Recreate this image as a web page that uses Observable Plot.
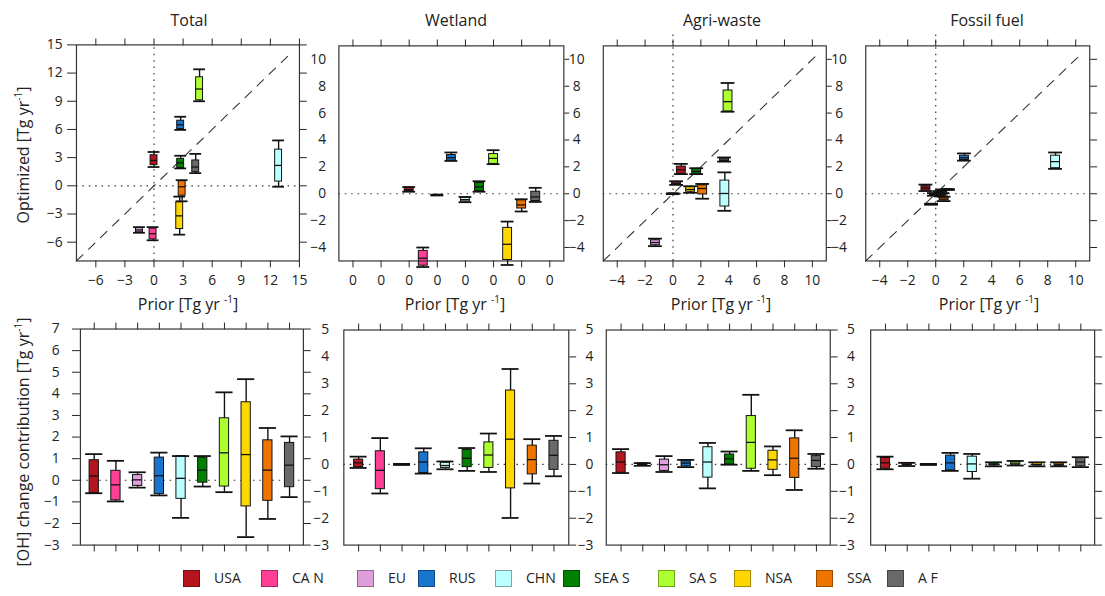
<!DOCTYPE html>
<html>
<head>
<meta charset="utf-8">
<script src="https://cdn.jsdelivr.net/npm/d3@7"></script>
<script src="https://cdn.jsdelivr.net/npm/@observablehq/plot@0.6"></script>
<style>
html,body{margin:0;padding:0;background:#fff;}
#root{position:relative;width:1105px;height:596px;overflow:hidden;font-family:"Open Sans",sans-serif;color:#222;background:#fff;}
#root svg{position:absolute;left:0;top:0;}
.lbl{position:absolute;white-space:nowrap;font-size:16px;line-height:16px;transform:translateX(-50%);}
.vlbl{position:absolute;white-space:nowrap;font-size:16px;line-height:16px;transform:translate(-50%,-50%) rotate(-90deg);}
.sup{font-size:10px;position:relative;top:-7px;}
.sw{position:absolute;width:17px;height:17px;box-sizing:border-box;border:1px solid rgba(0,0,0,0.35);}
.lg{position:absolute;font-size:14px;line-height:14px;white-space:nowrap;}
</style>
</head>
<body>
<div id="root"></div>
<script>
// ---------------- data ----------------
const regions = ["USA","CAN","EU","RUS","CHN","SEAS","SAS","NSA","SSA","AF"];
const legendLabels = ["USA","CA N","EU","RUS","CHN","SEA S","SA S","NSA","SSA","A F"];
const colors = ["#B3161F","#FF3E96","#DDA0DD","#1874CD","#BBFFFF","#008000","#ADFF2F","#FFD700","#EE7600","#696969"];
const panelTitles = ["Total","Wetland","Agri-waste","Fossil fuel"];

// prior (x) values, top row
const priorTotal   = [0, -0.1, -1.5, 2.75, 12.85, 2.75, 4.7, 2.65, 2.9, 4.3];
const priorWetland = [0, 1, 2, 3, 4, 5, 6, 7, 8, 9];
const priorAgri    = [0.6, 0.26, -1.26, 0.02, 3.72, 1.7, 3.95, 1.26, 2.13, 3.7];
const priorFossil  = [-0.7, -0.1, -0.3, 2.05, 8.56, 0.5, 0.9, 0.4, 0.6, 0.3];

// optimized box stats [lo, q1, median, q3, hi], top row
const optTotal = [
  [2.0, 2.2, 2.7, 3.25, 3.6], [-5.8, -5.7, -5.1, -4.55, -4.4], [-5.0, -4.95, -4.7, -4.5, -4.4],
  [5.95, 6.05, 6.5, 6.93, 7.35], [-0.1, 0.45, 2.17, 3.85, 4.83], [1.85, 1.9, 2.45, 2.87, 3.2],
  [9.0, 9.1, 10.3, 11.55, 12.4], [-5.2, -4.6, -3.2, -1.75, -1.15], [-1.65, -1.05, -0.1, 0.5, 0.6],
  [1.35, 1.45, 2.0, 2.7, 3.4]];
const optWetland = [
  [0.15, 0.2, 0.3, 0.45, 0.5], [-5.45, -5.35, -4.8, -4.25, -4.0], [-0.13, -0.12, -0.1, -0.08, -0.07],
  [2.44, 2.46, 2.68, 2.88, 3.07], [-0.63, -0.58, -0.44, -0.29, -0.24], [0.15, 0.2, 0.51, 0.8, 0.93],
  [2.2, 2.22, 2.63, 2.95, 3.24], [-5.3, -4.93, -3.76, -2.54, -2.07], [-1.32, -1.1, -0.83, -0.49, -0.41],
  [-0.61, -0.54, -0.24, 0.15, 0.44]];
const optAgri = [
  [1.46, 1.49, 1.78, 2.02, 2.22], [0.66, 0.7, 0.78, 0.85, 0.93], [-3.9, -3.83, -3.63, -3.46, -3.34],
  [-0.03, -0.02, 0, 0.02, 0.03], [-1.27, -0.95, 0.02, 0.98, 1.59], [1.46, 1.48, 1.66, 1.85, 1.9],
  [6.1, 6.12, 6.85, 7.68, 8.24], [0.07, 0.15, 0.32, 0.49, 0.56], [-0.37, -0.05, 0.39, 0.63, 0.73],
  [2.39, 2.42, 2.5, 2.62, 2.7]];
const optFossil = [
  [0.2, 0.24, 0.44, 0.56, 0.68], [-0.15, -0.12, -0.05, 0.0, 0.05], [-0.82, -0.8, -0.78, -0.76, -0.74],
  [2.46, 2.51, 2.68, 2.83, 3.0], [1.85, 1.9, 2.39, 2.83, 3.07], [0.05, 0.1, 0.2, 0.28, 0.32],
  [0.28, 0.29, 0.31, 0.33, 0.35], [-0.2, -0.15, -0.1, -0.05, 0.0], [-0.55, -0.5, -0.4, -0.28, -0.22],
  [0.02, 0.05, 0.1, 0.15, 0.2]];

// [OH] change contribution box stats [lo, q1, median, q3, hi], bottom row
const ohTotal = [
  [-0.6, -0.6, 0.2, 0.93, 1.21], [-0.98, -0.93, -0.21, 0.44, 0.9], [-0.34, -0.26, 0.02, 0.24, 0.37],
  [-0.7, -0.64, 0.21, 1.05, 1.28], [-1.74, -0.86, 0.09, 1.12, 1.12], [-0.29, -0.11, 0.47, 1.04, 1.12],
  [-0.55, -0.29, 1.27, 2.87, 4.07], [-2.63, -1.21, 1.19, 3.61, 4.68], [-1.79, -0.95, 0.47, 1.85, 2.42],
  [-0.78, -0.32, 0.7, 1.73, 2.03]];
const ohWetland = [
  [-0.13, -0.1, 0.06, 0.18, 0.29], [-1.08, -0.92, -0.22, 0.49, 0.98], [-0.02, -0.01, 0, 0.01, 0.02],
  [-0.34, -0.32, 0.09, 0.45, 0.6], [-0.18, -0.13, -0.04, 0.06, 0.11], [-0.24, -0.1, 0.23, 0.54, 0.61],
  [-0.28, -0.13, 0.35, 0.82, 1.15], [-1.99, -0.89, 0.94, 2.75, 3.55], [-0.71, -0.37, 0.18, 0.7, 0.94],
  [-0.44, -0.2, 0.34, 0.88, 1.06]];
const ohAgri = [
  [-0.32, -0.31, 0.09, 0.45, 0.57], [-0.05, -0.04, 0, 0.04, 0.05], [-0.28, -0.24, -0.01, 0.18, 0.31],
  [-0.1, -0.07, 0.05, 0.12, 0.17], [-0.89, -0.49, 0.09, 0.64, 0.8], [-0.01, 0, 0.21, 0.37, 0.48],
  [-0.24, -0.16, 0.82, 1.8, 2.59], [-0.4, -0.2, 0.17, 0.51, 0.67], [-0.95, -0.5, 0.23, 0.97, 1.27],
  [-0.16, -0.1, 0.15, 0.31, 0.39]];
const ohFossil = [
  [-0.18, -0.16, 0.06, 0.24, 0.29], [-0.06, -0.04, 0, 0.04, 0.06], [-0.02, -0.01, 0, 0.01, 0.02],
  [-0.24, -0.22, 0.06, 0.33, 0.43], [-0.53, -0.28, 0.02, 0.29, 0.39], [-0.07, -0.04, 0.01, 0.05, 0.08],
  [-0.04, -0.01, 0.05, 0.1, 0.13], [-0.07, -0.04, 0, 0.05, 0.08], [-0.07, -0.05, -0.01, 0.04, 0.08],
  [-0.1, -0.07, 0.09, 0.24, 0.27]];

// tick values
const ticksTotal = [-6, -3, 0, 3, 6, 9, 12, 15];
const ticksSector = [-4, -2, 0, 2, 4, 6, 8, 10];
const ticksOhTotal = [-3, -2, -1, 0, 1, 2, 3, 4, 5, 6, 7];
const ticksOhSector = [-3, -2, -1, 0, 1, 2, 3, 4, 5];

// ---------------- layout ----------------
const W = 1120, H = 596;
const INK = "#111", FRAME = "#333";
const root = document.getElementById("root");
const baseStyle = {background: "transparent", fontFamily: "'Open Sans', sans-serif", fontSize: "14px", color: "#222", overflow: "visible"};
const blank = () => "";

function toRows(prior, stats) {
  return regions.map((r, i) => ({region: r, color: colors[i], x: prior ? prior[i] : null,
    lo: stats[i][0], q1: stats[i][1], med: stats[i][2], q3: stats[i][3], hi: stats[i][4]}));
}

function topPanel(c) {
  const upx = (c.xDomain[1] - c.xDomain[0]) / (c.right - c.left);
  const bh = c.boxPx / 2 * upx, ch = c.capPx / 2 * upx;
  const rows = c.rows;
  const marks = [Plot.ruleY([0], {stroke: FRAME, strokeDasharray: "1.5,5", strokeWidth: 1.2})];
  if (c.vline) marks.push(Plot.ruleX([c.vline], {x: "x", y1: "y1", y2: "y2", stroke: FRAME, strokeDasharray: "1.5,5", strokeWidth: 1.2}));
  if (c.diag) marks.push(Plot.line(c.diag, {x: "x", y: "y", stroke: FRAME, strokeDasharray: "9,8", strokeWidth: 1.1}));
  marks.push(
    Plot.ruleX(rows, {x: "x", y1: "lo", y2: "hi", stroke: INK, strokeWidth: 1.4}),
    Plot.rect(rows, {x1: d => d.x - bh, x2: d => d.x + bh, y1: "q1", y2: "q3", fill: "color", stroke: INK, strokeWidth: 1}),
    Plot.ruleY(rows, {y: "med", x1: d => d.x - bh, x2: d => d.x + bh, stroke: INK, strokeWidth: 1.3}),
    Plot.ruleY(rows, {y: "lo", x1: d => d.x - ch, x2: d => d.x + ch, stroke: INK, strokeWidth: 1.8}),
    Plot.ruleY(rows, {y: "hi", x1: d => d.x - ch, x2: d => d.x + ch, stroke: INK, strokeWidth: 1.8}),
    Plot.axisX({anchor: "bottom", ticks: c.xTicks, tickSize: 7, tickPadding: 7, tickFormat: c.xFmt, label: null}),
    Plot.axisX({anchor: "top", ticks: c.xTicks, tickSize: 7, tickFormat: blank, label: null})
  );
  if (c.leftLabels) marks.push(Plot.axisY({anchor: "left", ticks: c.yTicks, tickSize: c.leftTick, tickPadding: c.leftPad, label: null}));
  if (c.rightLabels) marks.push(Plot.axisY({anchor: "right", ticks: c.yTicks, tickSize: 5, tickPadding: 8, textAnchor: "middle", label: null}));
  else if (c.rightTicks) marks.push(Plot.axisY({anchor: "right", ticks: c.yTicks, tickSize: 7, tickFormat: blank, label: null}));
  marks.push(Plot.frame({stroke: FRAME, strokeWidth: 1.2}));
  return Plot.plot({
    width: W, height: H,
    marginLeft: c.left, marginRight: W - c.right, marginTop: c.top, marginBottom: H - c.bottom,
    x: {domain: c.xDomain, axis: null}, y: {domain: c.yDomain, axis: null},
    color: {type: "identity"},
    style: baseStyle,
    marks
  });
}

function bottomPanel(c) {
  const step = (c.right - c.left) / regions.length;
  const boxIn = (step - 10) / 2, capIn = (step - 18) / 2;
  const rows = c.rows;
  const marks = [
    Plot.ruleY([0], {stroke: FRAME, strokeDasharray: "1.5,5", strokeWidth: 1.2}),
    Plot.ruleX(rows, {x: "region", y1: "lo", y2: "hi", stroke: INK, strokeWidth: 1.4}),
    Plot.barY(rows, {x: "region", y1: "q1", y2: "q3", fill: "color", stroke: INK, strokeWidth: 1, insetLeft: boxIn, insetRight: boxIn}),
    Plot.tickY(rows, {x: "region", y: "med", stroke: INK, strokeWidth: 1.3, insetLeft: boxIn, insetRight: boxIn}),
    Plot.tickY(rows, {x: "region", y: "lo", stroke: INK, strokeWidth: 1.8, insetLeft: capIn, insetRight: capIn}),
    Plot.tickY(rows, {x: "region", y: "hi", stroke: INK, strokeWidth: 1.8, insetLeft: capIn, insetRight: capIn}),
    Plot.axisX({anchor: "top", tickSize: 7, tickFormat: blank, label: null}),
    Plot.axisX({anchor: "bottom", tickSize: 7, tickFormat: blank, label: null}),
    Plot.axisY({anchor: "left", ticks: c.yTicks, tickSize: c.leftTick, tickPadding: c.leftPad, label: null}),
    Plot.axisY({anchor: "right", ticks: c.yTicks, tickSize: 7, tickFormat: blank, label: null}),
    Plot.frame({stroke: FRAME, strokeWidth: 1.2})
  ];
  return Plot.plot({
    width: W, height: H,
    marginLeft: c.left, marginRight: W - c.right, marginTop: c.top, marginBottom: H - c.bottom,
    x: {type: "band", domain: regions, padding: 0, axis: null}, y: {domain: c.yDomain, axis: null},
    color: {type: "identity"},
    style: baseStyle,
    marks
  });
}

const sectorFmt = d3.format("d");
const panels = [
  topPanel({left: 77, right: 303, top: 45, bottom: 264, xDomain: [-8, 15], yDomain: [-8, 15],
    xTicks: ticksTotal, yTicks: ticksTotal, xFmt: sectorFmt, rows: toRows(priorTotal, optTotal),
    boxPx: 7, capPx: 12, diag: [{x: -8, y: -8}, {x: 14.2, y: 14.2}], vline: {x: 0, y1: -8, y2: 15},
    leftLabels: true, leftTick: 9, leftPad: 5, rightTicks: true}),
  topPanel({left: 343, right: 571, top: 46, bottom: 264, xDomain: [-5, 11], yDomain: [-5, 11],
    xTicks: ticksSector, yTicks: ticksSector, xFmt: () => "0", rows: toRows(priorWetland, optWetland),
    boxPx: 9, capPx: 13, leftLabels: true, leftTick: 0, leftPad: 13, rightLabels: true}),
  topPanel({left: 611, right: 837, top: 46, bottom: 264, xDomain: [-5, 11], yDomain: [-5, 11],
    xTicks: ticksSector, yTicks: ticksSector, xFmt: sectorFmt, rows: toRows(priorAgri, optAgri),
    boxPx: 9, capPx: 14, diag: [{x: -5, y: -5}, {x: 10.2, y: 10.2}], vline: {x: 0, y1: -5, y2: 12.05},
    rightLabels: true}),
  topPanel({left: 877, right: 1104, top: 46, bottom: 264, xDomain: [-5, 11], yDomain: [-5, 11],
    xTicks: ticksSector, yTicks: ticksSector, xFmt: sectorFmt, rows: toRows(priorFossil, optFossil),
    boxPx: 9, capPx: 14, diag: [{x: -5, y: -5}, {x: 10.3, y: 10.3}], vline: {x: 0, y1: -5, y2: 12.05},
    rightTicks: true}),
  bottomPanel({left: 81, right: 307, top: 333, bottom: 552, yDomain: [-3, 7], yTicks: ticksOhTotal,
    rows: toRows(null, ohTotal), leftTick: 8, leftPad: 13}),
  bottomPanel({left: 348, right: 576, top: 334, bottom: 552, yDomain: [-3, 5], yTicks: ticksOhSector,
    rows: toRows(null, ohWetland), leftTick: 0, leftPad: 15}),
  bottomPanel({left: 614, right: 841, top: 334, bottom: 552, yDomain: [-3, 5], yTicks: ticksOhSector,
    rows: toRows(null, ohAgri), leftTick: 0, leftPad: 13}),
  bottomPanel({left: 882, right: 1109, top: 334, bottom: 552, yDomain: [-3, 5], yTicks: ticksOhSector,
    rows: toRows(null, ohFossil), leftTick: 0, leftPad: 16})
];
panels.forEach(p => root.appendChild(p));

// ---------------- text ----------------
function addDiv(cls, html, x, y) {
  const d = document.createElement("div");
  d.className = cls; d.innerHTML = html;
  d.style.left = x + "px"; d.style.top = y + "px";
  root.appendChild(d);
  return d;
}
const titleX = [189, 456, 722, 987];
panelTitles.forEach((t, i) => addDiv("lbl", t, titleX[i], 12));
const priorLabel = 'Prior [Tg yr <span class="sup">-1</span>]';
const xlabX = [188, 455, 721, 989];
xlabX.forEach(x => addDiv("lbl", priorLabel, x, 296));
addDiv("vlbl", 'Optimized [Tg yr<span class="sup">-1</span>]', 24, 155);
addDiv("vlbl", '[OH] change contribution [Tg yr<span class="sup">-1</span>]', 24, 442);

// legend
const legendSwatchX = [183, 261, 357, 418, 495, 563, 658, 734, 816, 887];
regions.forEach((r, i) => {
  const s = document.createElement("div");
  s.className = "sw"; s.style.background = colors[i];
  s.style.left = legendSwatchX[i] + "px"; s.style.top = "570px";
  root.appendChild(s);
  addDiv("lg", legendLabels[i], legendSwatchX[i] + 31, 571);
});
</script>
</body>
</html>
